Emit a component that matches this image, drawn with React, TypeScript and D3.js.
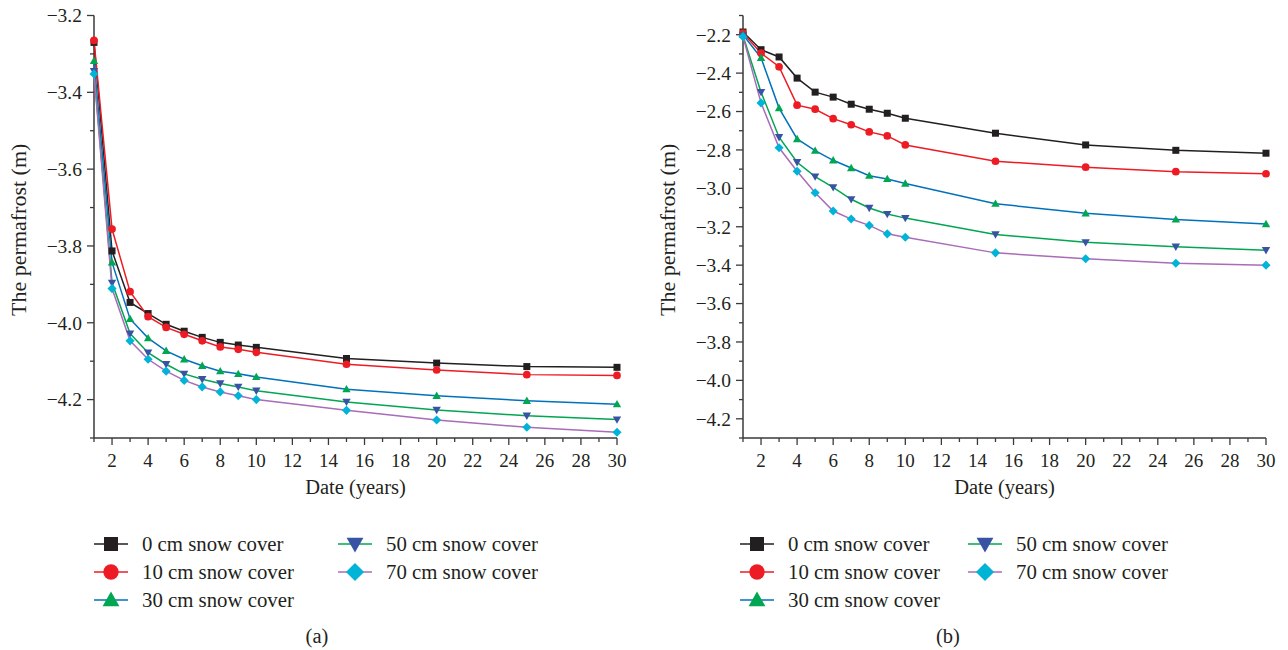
import React from "react";
import * as d3 from "d3";

const years = [1, 2, 3, 4, 5, 6, 7, 8, 9, 10, 15, 20, 25, 30];
const seriesNames = [
  "0 cm snow cover",
  "10 cm snow cover",
  "30 cm snow cover",
  "50 cm snow cover",
  "70 cm snow cover",
];

const a0 = [-3.27, -3.813, -3.947, -3.976, -4.004, -4.022, -4.038, -4.051, -4.058, -4.064, -4.093, -4.105, -4.114, -4.116];
const a10 = [-3.265, -3.756, -3.919, -3.984, -4.012, -4.03, -4.047, -4.063, -4.069, -4.077, -4.108, -4.123, -4.135, -4.137];
const a30 = [-3.318, -3.843, -3.99, -4.04, -4.073, -4.095, -4.112, -4.126, -4.133, -4.141, -4.173, -4.19, -4.203, -4.212];
const a50 = [-3.345, -3.896, -4.028, -4.078, -4.108, -4.133, -4.147, -4.158, -4.167, -4.177, -4.206, -4.227, -4.242, -4.252];
const a70 = [-3.352, -3.911, -4.047, -4.095, -4.126, -4.15, -4.167, -4.18, -4.19, -4.2, -4.228, -4.253, -4.272, -4.285];

const b0 = [-2.186, -2.278, -2.316, -2.426, -2.499, -2.525, -2.562, -2.588, -2.609, -2.635, -2.713, -2.774, -2.802, -2.817];
const b10 = [-2.191, -2.296, -2.367, -2.567, -2.588, -2.637, -2.669, -2.706, -2.727, -2.774, -2.859, -2.89, -2.913, -2.924];
const b30 = [-2.2, -2.32, -2.582, -2.743, -2.804, -2.854, -2.894, -2.934, -2.951, -2.975, -3.08, -3.13, -3.162, -3.186];
const b50 = [-2.205, -2.499, -2.734, -2.864, -2.939, -2.995, -3.057, -3.102, -3.134, -3.155, -3.24, -3.281, -3.304, -3.322];
const b70 = [-2.21, -2.555, -2.789, -2.911, -3.023, -3.118, -3.16, -3.193, -3.237, -3.255, -3.336, -3.367, -3.39, -3.4];

const xMajorTicks = [2, 4, 6, 8, 10, 12, 14, 16, 18, 20, 22, 24, 26, 28, 30];
const xMinorTicks = [1, 3, 5, 7, 9, 11, 13, 15, 17, 19, 21, 23, 25, 27, 29];
const aYMajor = [-3.2, -3.4, -3.6, -3.8, -4.0, -4.2];
const aYMinor = [-3.3, -3.5, -3.7, -3.9, -4.1, -4.3];
const bYMajor = [-2.2, -2.4, -2.6, -2.8, -3.0, -3.2, -3.4, -3.6, -3.8, -4.0, -4.2];
const bYMinor = [-2.1, -2.3, -2.5, -2.7, -2.9, -3.1, -3.3, -3.5, -3.7, -3.9, -4.1, -4.3];

const lineColors = ["#231f20", "#ed1c24", "#0072bc", "#00a651", "#a86cb8"];
const markerColors = ["#231f20", "#ed1c24", "#00a651", "#3953a4", "#00b4d8"];
const markerKinds = ["square", "circle", "triangle", "triangleDown", "diamond"];

const FONT = "'Liberation Serif', 'Times New Roman', serif";
const AXIS = "#3a3a3a";

function Marker({ kind, x, y, s, color }: { kind: string; x: number; y: number; s: number; color: string }) {
  if (kind === "square") return <rect x={x - s / 2} y={y - s / 2} width={s} height={s} fill={color} />;
  if (kind === "circle") return <circle cx={x} cy={y} r={s * 0.55} fill={color} />;
  if (kind === "triangle") {
    const p = d3.path();
    p.moveTo(x, y - s * 0.6);
    p.lineTo(x + s * 0.6, y + s * 0.45);
    p.lineTo(x - s * 0.6, y + s * 0.45);
    p.closePath();
    return <path d={p.toString()} fill={color} />;
  }
  if (kind === "triangleDown") {
    const p = d3.path();
    p.moveTo(x, y + s * 0.6);
    p.lineTo(x + s * 0.6, y - s * 0.45);
    p.lineTo(x - s * 0.6, y - s * 0.45);
    p.closePath();
    return <path d={p.toString()} fill={color} />;
  }
  const p = d3.path();
  p.moveTo(x, y - s * 0.65);
  p.lineTo(x + s * 0.65, y);
  p.lineTo(x, y + s * 0.65);
  p.lineTo(x - s * 0.65, y);
  p.closePath();
  return <path d={p.toString()} fill={color} />;
}

type PanelProps = {
  series: number[][];
  x0: number;
  x1: number;
  yDomain: [number, number];
  yMajor: number[];
  yMinor: number[];
  titleX: number;
  legendX: [number, number];
  caption: string;
  captionX: number;
};

function Panel({ series, x0, x1, yDomain, yMajor, yMinor, titleX, legendX, caption, captionX }: PanelProps) {
  const top = 15.5;
  const bottom = 438;
  const x = d3.scaleLinear().domain([1, 30]).range([x0, x1]);
  const y = d3.scaleLinear().domain(yDomain).range([bottom, top]);
  const line = d3
    .line<number>()
    .x((_, i) => x(years[i]))
    .y((d) => y(d));
  const legendRows = [544, 572, 600];
  const legendPos = [
    [0, 0],
    [0, 1],
    [0, 2],
    [1, 0],
    [1, 1],
  ];
  return (
    <g>
      <line x1={x0} x2={x0} y1={top} y2={bottom} stroke={AXIS} strokeWidth={1.5} />
      <line x1={x0} x2={x1} y1={bottom} y2={bottom} stroke={AXIS} strokeWidth={1.5} />
      {yMajor.map((t) => (
        <g key={"ym" + t}>
          <line x1={x0 - 7} x2={x0} y1={y(t)} y2={y(t)} stroke={AXIS} strokeWidth={1.3} />
          <text x={x0 - 12} y={y(t)} dy="0.35em" textAnchor="end" fontSize={19.5} fontFamily={FONT} fill="#231f20">
            {"\u2212" + Math.abs(t).toFixed(1)}
          </text>
        </g>
      ))}
      {yMinor.map((t) => (
        <line key={"yn" + t} x1={x0 - 4} x2={x0} y1={y(t)} y2={y(t)} stroke={AXIS} strokeWidth={1.3} />
      ))}
      {xMajorTicks.map((t) => (
        <g key={"xm" + t}>
          <line x1={x(t)} x2={x(t)} y1={bottom} y2={bottom + 7} stroke={AXIS} strokeWidth={1.3} />
          <text x={x(t)} y={467} textAnchor="middle" fontSize={19} fontFamily={FONT} fill="#231f20">
            {t}
          </text>
        </g>
      ))}
      {xMinorTicks.map((t) => (
        <line key={"xn" + t} x1={x(t)} x2={x(t)} y1={bottom} y2={bottom + 4} stroke={AXIS} strokeWidth={1.3} />
      ))}
      <text x={(x0 + x1) / 2} y={494} textAnchor="middle" fontSize={20.5} fontFamily={FONT} fill="#231f20">
        Date (years)
      </text>
      <text
        transform={`translate(${titleX},${(top + bottom) / 2 + 3}) rotate(-90)`}
        textAnchor="middle"
        dy="0.35em"
        fontSize={22}
        fontFamily={FONT}
        fill="#231f20"
      >
        The permafrost (m)
      </text>
      {series.map((s, i) => (
        <path key={"l" + i} d={line(s) || ""} fill="none" stroke={lineColors[i]} strokeWidth={1.5} />
      ))}
      {series.map((s, i) =>
        s.map((v, j) => (
          <Marker key={"m" + i + "-" + j} kind={markerKinds[i]} x={x(years[j])} y={y(v)} s={7} color={markerColors[i]} />
        ))
      )}
      {seriesNames.map((name, i) => {
        const [col, row] = legendPos[i];
        const lx = legendX[col];
        const ly = legendRows[row];
        return (
          <g key={"lg" + i}>
            <line x1={lx} x2={lx + 34} y1={ly} y2={ly} stroke={lineColors[i]} strokeWidth={1.5} />
            <Marker kind={markerKinds[i]} x={lx + 17} y={ly} s={14} color={markerColors[i]} />
            <text x={lx + 48} y={ly} dy="0.33em" fontSize={20.8} fontFamily={FONT} fill="#231f20">
              {name}
            </text>
          </g>
        );
      })}
      <text x={captionX} y={636} dy="0.35em" textAnchor="middle" fontSize={20.5} fontFamily={FONT} fill="#231f20">
        {caption}
      </text>
    </g>
  );
}

export default function App() {
  return (
    <div style={{ position: "absolute", left: 0, top: 0 }}>
      <svg width={1288} height={650} style={{ display: "block", background: "#fff" }}>
        <Panel
          series={[a0, a10, a30, a50, a70]}
          x0={94}
          x1={617}
          yDomain={[-4.3, -3.2]}
          yMajor={aYMajor}
          yMinor={aYMinor}
          titleX={18}
          legendX={[94, 338]}
          caption="(a)"
          captionX={317}
        />
        <Panel
          series={[b0, b10, b30, b50, b70]}
          x0={743}
          x1={1266}
          yDomain={[-4.3, -2.1]}
          yMajor={bYMajor}
          yMinor={bYMinor}
          titleX={667}
          legendX={[740, 968]}
          caption="(b)"
          captionX={948}
        />
      </svg>
    </div>
  );
}
